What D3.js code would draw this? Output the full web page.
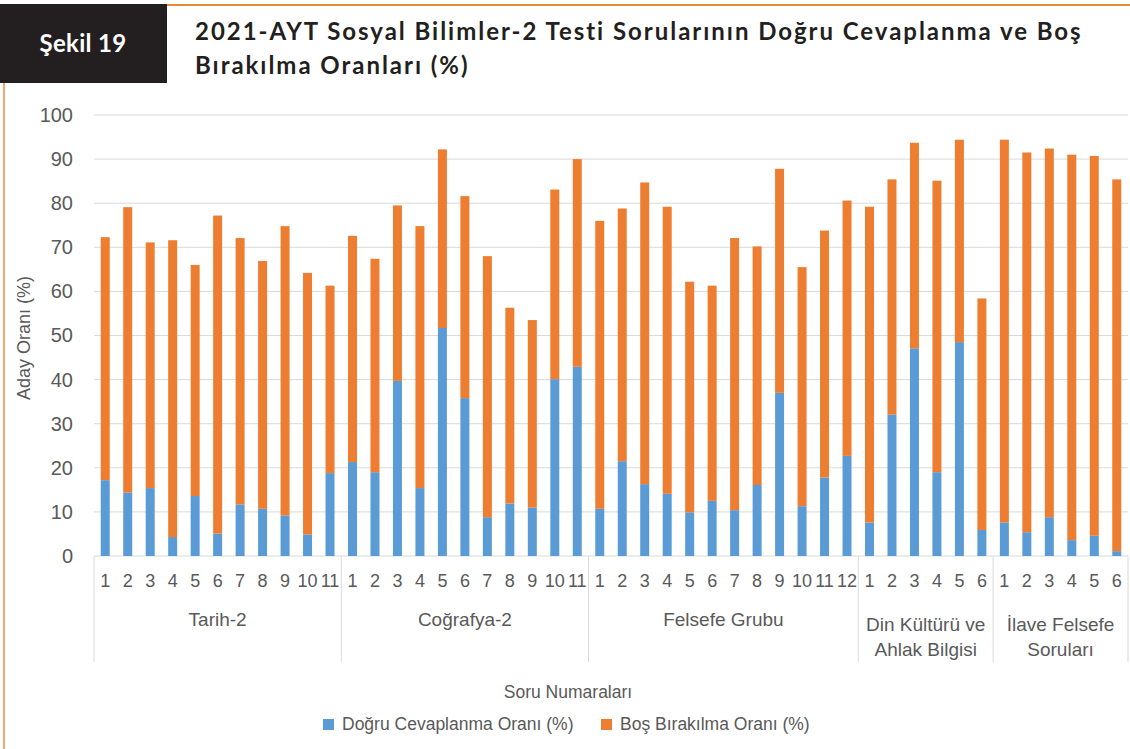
<!DOCTYPE html>
<html>
<head>
<meta charset="utf-8">
<script src="https://cdn.jsdelivr.net/npm/d3@7/dist/d3.min.js"></script>
<style>
  html, body { margin: 0; padding: 0; background: #fff; }
  svg { display: block; }
</style>
</head>
<body>
<svg id="chart" width="1130" height="749"></svg>
<script>
// ---- data ----
const groups = ["Tarih-2", "Coğrafya-2", "Felsefe Grubu", "Din Kültürü ve|Ahlak Bilgisi", "İlave Felsefe|Soruları"];
const groupSizes = [11, 11, 12, 6, 6];
const dogru = [
  17.2, 14.4, 15.4, 4.3, 13.6, 5.1, 11.7, 10.7, 9.2, 4.9, 18.8,
  21.3, 19.0, 39.7, 15.4, 51.7, 35.8, 8.8, 11.9, 11.0, 40.1, 42.9,
  10.7, 21.5, 16.3, 14.1, 9.9, 12.5, 10.4, 16.1, 37.0, 11.3, 17.8, 22.7,
  7.6, 32.1, 47.1, 19.0, 48.5, 5.9,
  7.6, 5.4, 8.8, 3.6, 4.6, 1.1
];
const bos = [
  55.1, 64.7, 55.7, 67.3, 52.4, 72.1, 60.4, 56.2, 65.6, 59.3, 42.5,
  51.3, 48.4, 39.8, 59.4, 40.5, 45.8, 59.2, 44.4, 42.5, 43.0, 47.1,
  65.3, 57.3, 68.4, 65.1, 52.3, 48.8, 61.7, 54.1, 50.8, 54.2, 56.0, 57.9,
  71.6, 53.3, 46.6, 66.1, 45.9, 52.5,
  86.8, 86.1, 83.6, 87.4, 86.1, 84.3
];
const yTicks = [0, 10, 20, 30, 40, 50, 60, 70, 80, 90, 100];
const seriesNames = ["Doğru Cevaplanma Oranı (%)", "Boş Bırakılma Oranı (%)"];
const colors = ["#5b9bd5", "#ed7d31"];
const titleLines = ["2021-AYT Sosyal Bilimler-2 Testi Sorularının Doğru Cevaplanma ve Boş", "Bırakılma Oranları (%)"];

// ---- build rows ----
const rows = [];
groupSizes.forEach((n, gi) => {
  for (let i = 0; i < n; i++) {
    const idx = rows.length;
    rows.push({ key: idx, group: gi, label: String(i + 1), dogru: dogru[idx], bos: bos[idx] });
  }
});

const svg = d3.select("#chart");
const font = "'Liberation Sans', Arial, sans-serif";
const txtColor = "#595959";

// ---- frame ----
svg.append("rect").attr("x", 0).attr("y", 4).attr("width", 167).attr("height", 79).attr("fill", "#231f20");
svg.append("text").attr("x", 83).attr("y", 46).attr("text-anchor", "middle").attr("dominant-baseline", "middle")
  .attr("fill", "#fff").attr("font-family", "Lato, 'Noto Sans', sans-serif").attr("font-weight", 700)
  .attr("font-size", 24).attr("letter-spacing", 0.3).text("Şekil 19");
svg.append("line").attr("x1", 167).attr("x2", 1130).attr("y1", 5).attr("y2", 5)
  .attr("stroke", "#f0883c").attr("stroke-width", 2);
svg.append("line").attr("x1", 4).attr("x2", 4).attr("y1", 83).attr("y2", 749)
  .attr("stroke", "#f0883c").attr("stroke-width", 1.5);

const title = svg.append("g");
titleLines.forEach((t, i) => {
  title.append("text").attr("x", 195).attr("y", 34 + i * 34).attr("dominant-baseline", "middle")
    .attr("fill", "#231f20").attr("font-family", "Lato, 'Noto Sans', sans-serif").attr("font-weight", 700)
    .attr("font-size", 24).text(t);
});
// fit first line to reference width via letter spacing
{
  const t0 = title.select("text").node();
  const w = t0.getComputedTextLength();
  const ls = (888 - w) / titleLines[0].length;
  title.selectAll("text").attr("letter-spacing", Math.max(0, ls));
}

// ---- scales ----
const x0 = 94, x1 = 1128, yTop = 115, yBot = 556;
const x = d3.scaleBand().domain(rows.map(d => d.key)).range([x0, x1]).paddingInner(0.6).paddingOuter(0.3);
const y = d3.scaleLinear().domain([0, 100]).range([yBot, yTop]);

// gridlines
svg.append("g").selectAll("line").data(yTicks).join("line")
  .attr("x1", x0).attr("x2", x1).attr("y1", d => y(d)).attr("y2", d => y(d))
  .attr("stroke", "#d9d9d9").attr("stroke-width", 1);

// y axis
const yAxis = d3.axisLeft(y).tickValues(yTicks).tickSize(0).tickPadding(0);
const gy = svg.append("g").attr("transform", "translate(73,0)").call(yAxis);
gy.select(".domain").remove();
gy.selectAll("text").attr("font-family", font).attr("font-size", 20).attr("fill", txtColor);

svg.append("text").attr("transform", "translate(25,338) rotate(-90)").attr("text-anchor", "middle")
  .attr("dominant-baseline", "middle").attr("font-family", font).attr("font-size", 18).attr("fill", txtColor)
  .text("Aday Oranı (%)");

// ---- stacked bars ----
const stack = d3.stack().keys(["dogru", "bos"]);
const series = stack(rows);
svg.append("g").selectAll("g").data(series).join("g")
  .attr("fill", (d, i) => colors[i])
  .selectAll("rect").data(d => d).join("rect")
  .attr("x", d => x(d.data.key)).attr("width", x.bandwidth())
  .attr("y", d => y(d[1])).attr("height", d => y(d[0]) - y(d[1]));

// ---- x axis (multi-level) ----
const xAxis = d3.axisBottom(x).tickSize(0).tickPadding(0).tickFormat(k => rows[k].label);
const gx = svg.append("g").attr("transform", `translate(0,${yBot})`).call(xAxis);
gx.select(".domain").remove();
gx.selectAll("text").attr("y", 26).attr("dy", 0).attr("dominant-baseline", "middle")
  .attr("font-family", font).attr("font-size", 18).attr("fill", txtColor);

// separators
const bounds = [];
let acc = 0;
bounds.push(0);
groupSizes.forEach(n => { acc += n; bounds.push(acc); });
const step = x.step();
const bx = i => x0 + bounds[i] * step;
svg.append("g").selectAll("line").data(bounds.map((b, i) => i)).join("line")
  .attr("x1", i => bx(i)).attr("x2", i => bx(i)).attr("y1", yBot).attr("y2", 662)
  .attr("stroke", "#d9d9d9").attr("stroke-width", 1);

// group labels
const gl = svg.append("g");
groups.forEach((g, i) => {
  const cx = (bx(i) + bx(i + 1)) / 2;
  const lines = g.split("|");
  const t = gl.append("text").attr("text-anchor", "middle").attr("font-family", font).attr("font-size", 19)
    .attr("fill", txtColor);
  if (lines.length === 1) {
    t.append("tspan").attr("x", cx).attr("y", 621).attr("dominant-baseline", "middle").text(lines[0]);
  } else {
    lines.forEach((l, j) => t.append("tspan").attr("x", cx).attr("y", 626 + j * 25).attr("dominant-baseline", "middle").text(l));
  }
});

// x title
svg.append("text").attr("x", 568).attr("y", 693).attr("text-anchor", "middle").attr("dominant-baseline", "middle")
  .attr("font-family", font).attr("font-size", 17.5).attr("fill", txtColor).text("Soru Numaraları");

// legend
const legendX = [323, 601];
const lg = svg.append("g");
seriesNames.forEach((n, i) => {
  lg.append("rect").attr("x", legendX[i]).attr("y", 719).attr("width", 11).attr("height", 11).attr("fill", colors[i]);
  lg.append("text").attr("x", legendX[i] + 19).attr("y", 725).attr("dominant-baseline", "middle")
    .attr("font-family", font).attr("font-size", 17.5).attr("fill", txtColor).text(n);
});
</script>
</body>
</html>
